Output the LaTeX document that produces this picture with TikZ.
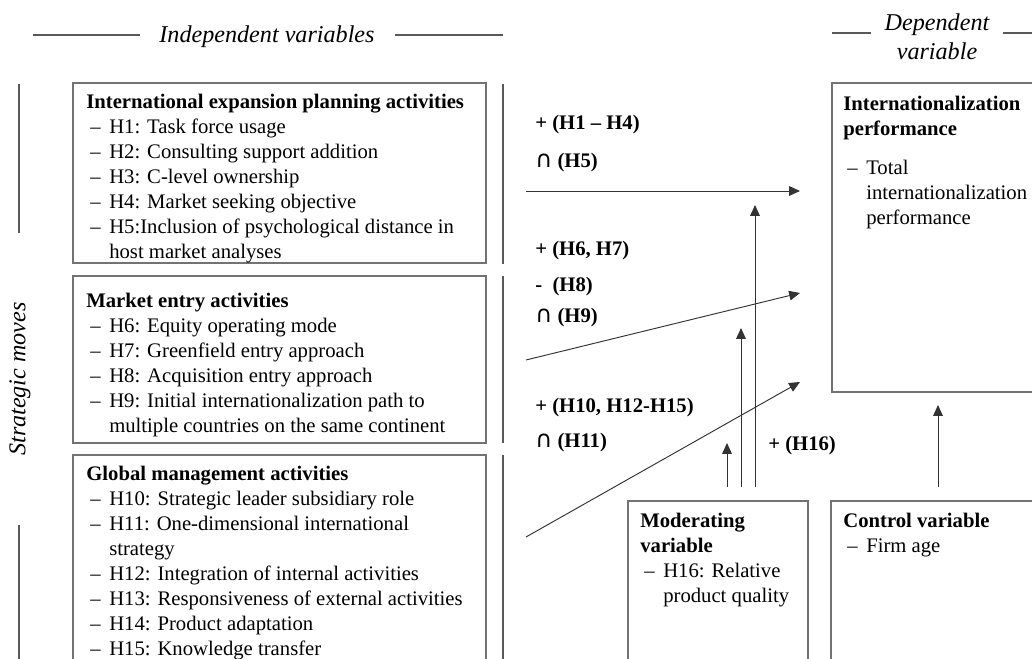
\documentclass[tikz,border=0pt]{standalone}
\usepackage{fontspec}
\setmainfont{Liberation Serif}
\newfontfamily\symfont{DejaVu Sans}
\usetikzlibrary{arrows.meta,fit,positioning}

\newcommand{\itemdash}{\makebox[13.3pt][l]{\hspace{2.3pt}--}}
\newcommand{\hang}{\hspace*{13.3pt}}
\newcommand{\capsym}{{\symfont\mdseries\fontsize{13.5}{14.5}\selectfont ∩}}

\begin{document}
\begin{tikzpicture}[x=0.58pt,y=-0.58pt,>={Triangle[length=6.3pt,width=5.6pt]}]
\tikzstyle{box}=[draw=black!55,line width=0.8pt,inner sep=0]
\tikzstyle{box text}=[anchor=north west,inner sep=0,align=left,font=\fontsize{12}{14.5}\selectfont]

\tikzset{
	head/.style={font=\fontsize{14}{16.8}\selectfont\itshape,align=center,inner sep=0},
	effect/.style={anchor=base west,inner sep=0,font=\fontsize{12}{14.5}\selectfont\bfseries},
	link/.style={draw=black!80,line width=0.55pt},
	rule/.style={draw=black!65,line width=0.6pt}
}

      \clip (0,0) rectangle (1032,659);

      % headings
      \node[head] (indep) at (267,37) {Independent variables};
      \node[head] (dep) at (937,37) {Dependent\\variable};
      \node[head,rotate=90] (moves) at (20,379) {Strategic moves};
      \draw[rule] (33,35) -- (140,35) (395,35) -- (503,35);
      \draw[rule] (832,33) -- (871,33) (1003,33) -- (1032,33);
      \draw[rule] (19,84) -- (19,233) (19,525) -- (19,659);
      \draw[rule] (503,84) -- (503,264) (503,276) -- (503,443) (503,455) -- (503,659);

      % boxes
      \node[box,fit={(73,83) (486,263)}] (plan) {};
      \node[box,fit={(73,276) (486,443)}] (entry) {};
      \node[box,fit={(73,455) (486,690)}] (glob) {};
      \node[box,fit={(832,83) (1060,392)}] (perf) {};
      \node[box,fit={(628,501) (808,690)}] (mod) {};
      \node[box,fit={(831,501) (1060,690)}] (ctrl) {};

      \node[box text] (plan text) at (86,94) {\textbf{International expansion planning activities}\\
        \itemdash H1: Task force usage\\
        \itemdash H2: Consulting support addition\\
        \itemdash H3: C-level ownership\\
        \itemdash H4: Market seeking objective\\
        \itemdash H5:Inclusion of psychological distance in\\
        \hang host market analyses};
      \node[box text] (entry text) at (86,293) {\textbf{Market entry activities}\\
        \itemdash H6: Equity operating mode\\
        \itemdash H7: Greenfield entry approach\\
        \itemdash H8: Acquisition entry approach\\
        \itemdash H9: Initial internationalization path to\\
        \hang multiple countries on the same continent};
      \node[box text] (glob text) at (86,466) {\textbf{Global management activities}\\
        \itemdash H10: Strategic leader subsidiary role\\
        \itemdash H11: One-dimensional international\\
        \hang strategy\\
        \itemdash H12: Integration of internal activities\\
        \itemdash H13: Responsiveness of external activities\\
        \itemdash H14: Product adaptation\\
        \itemdash H15: Knowledge transfer};
      \node[box text] (perf text) at (843,96) {\textbf{Internationalization}\\
        \textbf{performance}\\[8pt]
        \itemdash Total\\
        \hang internationalization\\
        \hang performance};
      \node[box text] (mod text) at (640,513) {\textbf{Moderating}\\
        \textbf{variable}\\
        \itemdash H16: Relative\\
        \hang product quality};
      \node[box text] (ctrl text) at (843,513) {\textbf{Control variable}\\
        \itemdash Firm age};

      % effects
      \node[effect] (e1) at (535,130) {+ (H1 -- H4)};
      \node[effect] (e2) at (535,168) {\capsym{} (H5)};
      \node[effect] (e3) at (535,256) {+ (H6, H7)};
      \node[effect] (e4) at (535,292) {-\ \ (H8)};
      \node[effect] (e5) at (535,323) {\capsym{} (H9)};
      \node[effect] (e6) at (535,413) {+ (H10, H12-H15)};
      \node[effect] (e7) at (535,448) {\capsym{} (H11)};
      \node[effect] (e8) at (768,451) {+ (H16)};

      \coordinate (a1s) at (526,191);
      \coordinate (a1e) at (800,191);
      \coordinate (a2s) at (526,360);
      \coordinate (a2e) at (800,293);
      \coordinate (a3s) at (526,537);
      \coordinate (a3e) at (800,382);
      \coordinate (m1s) at (755,487);
      \coordinate (m1e) at (755,205);
      \coordinate (m2s) at (741,487);
      \coordinate (m2e) at (741,328);
      \coordinate (m3s) at (727,487);
      \coordinate (m3e) at (727,443);
      \coordinate (cs) at (938,487);
      \coordinate (ce) at (938,405);

    \path[->]   (a1s) edge[link] (a1e)
                (a2s) edge[link] (a2e)
                (a3s) edge[link] (a3e)
                (m1s) edge[link] (m1e)
                (m2s) edge[link] (m2e)
                (m3s) edge[link] (m3e)
                (cs) edge[link] (ce);
\end{tikzpicture}
\end{document}
